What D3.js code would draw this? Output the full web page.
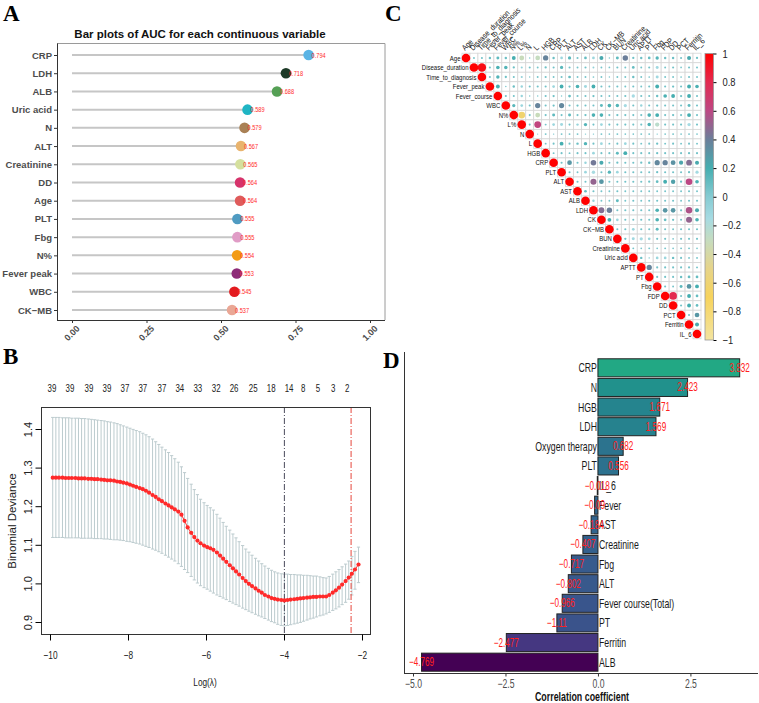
<!DOCTYPE html>
<html>
<head>
<meta charset="utf-8">
<script src="https://cdn.jsdelivr.net/npm/d3@7"></script>
<style>
  body { margin: 0; background: #fff; }
  svg { display: block; }
  text { font-family: "Liberation Sans", Arial, sans-serif; }
  .tag { font-family: "Liberation Serif", "Times New Roman", serif; font-weight: bold; font-size: 23px; }
</style>
</head>
<body>
<svg id="fig" width="759" height="703"></svg>
<script>
// ---------- A: AUC lollipop ----------
const aucVars = ["CRP", "LDH", "ALB", "Uric acid", "N", "ALT", "Creatinine", "DD", "Age", "PLT", "Fbg", "N%", "Fever peak", "WBC", "CK\u2212MB"];
const aucValues = [0.794, 0.718, 0.688, 0.589, 0.579, 0.567, 0.565, 0.564, 0.564, 0.555, 0.555, 0.554, 0.553, 0.545, 0.537];
const aucColors = ["#5ab4e5", "#1d3a27", "#55a055", "#1fb5c4", "#a98155", "#e9b46e", "#d5e09e", "#d6336b", "#df5b5b", "#4f9bc2", "#e09cc6", "#f39c16", "#8e2b78", "#e31b1f", "#eaa795"];
const aucTicks = [0, 0.25, 0.5, 0.75, 1];

// ---------- B: lasso CV curve ----------
const lassoLogLambda = [
  -9.93, -9.85, -9.77, -9.68, -9.60, -9.52, -9.44, -9.35, -9.27, -9.19,
  -9.11, -9.02, -8.94, -8.86, -8.78, -8.69, -8.61, -8.53, -8.45, -8.36,
  -8.28, -8.20, -8.12, -8.03, -7.95, -7.87, -7.79, -7.70, -7.62, -7.54,
  -7.46, -7.37, -7.29, -7.21, -7.13, -7.04, -6.96, -6.88, -6.80, -6.71,
  -6.63, -6.55, -6.47, -6.38, -6.30, -6.22, -6.14, -6.05, -5.97, -5.89,
  -5.81, -5.72, -5.64, -5.56, -5.48, -5.39, -5.31, -5.23, -5.15, -5.06,
  -4.98, -4.90, -4.82, -4.73, -4.65, -4.57, -4.49, -4.40, -4.32, -4.24,
  -4.16, -4.07, -3.99, -3.91, -3.83, -3.74, -3.66, -3.58, -3.50, -3.41,
  -3.33, -3.25, -3.17, -3.08, -3.00, -2.92, -2.84, -2.75, -2.67, -2.59,
  -2.51, -2.42, -2.34, -2.26, -2.18, -2.09];
const lassoMean = [
  1.274, 1.274, 1.274, 1.274, 1.273, 1.273, 1.273, 1.273, 1.272, 1.272,
  1.272, 1.271, 1.271, 1.270, 1.270, 1.269, 1.268, 1.267, 1.267, 1.266,
  1.264, 1.263, 1.261, 1.259, 1.256, 1.253, 1.250, 1.247, 1.244, 1.240,
  1.235, 1.229, 1.224, 1.218, 1.213, 1.207, 1.202, 1.197, 1.192, 1.186,
  1.178, 1.162, 1.145, 1.131, 1.120, 1.111, 1.104, 1.098, 1.094, 1.091,
  1.087, 1.080, 1.072, 1.064, 1.056, 1.047, 1.039, 1.031, 1.023, 1.014,
  1.006, 0.999, 0.993, 0.987, 0.981, 0.976, 0.970, 0.966, 0.962, 0.960,
  0.958, 0.957, 0.956, 0.957, 0.958, 0.959, 0.960, 0.961, 0.962, 0.963,
  0.964, 0.965, 0.965, 0.966, 0.966, 0.966, 0.970, 0.976, 0.982, 0.989,
  0.997, 1.006, 1.015, 1.025, 1.036, 1.049];
const lassoUpper = [
  1.430, 1.430, 1.430, 1.429, 1.429, 1.429, 1.428, 1.428, 1.428, 1.427,
  1.427, 1.426, 1.425, 1.424, 1.423, 1.422, 1.421, 1.419, 1.418, 1.416,
  1.414, 1.411, 1.408, 1.405, 1.402, 1.399, 1.396, 1.393, 1.389, 1.385,
  1.380, 1.374, 1.367, 1.360, 1.353, 1.346, 1.339, 1.331, 1.323, 1.314,
  1.302, 1.287, 1.272, 1.257, 1.243, 1.230, 1.218, 1.209, 1.202, 1.196,
  1.190, 1.179, 1.169, 1.158, 1.148, 1.138, 1.128, 1.118, 1.108, 1.098,
  1.089, 1.081, 1.073, 1.065, 1.058, 1.051, 1.045, 1.039, 1.034, 1.030,
  1.027, 1.025, 1.024, 1.024, 1.023, 1.023, 1.022, 1.022, 1.021, 1.021,
  1.020, 1.019, 1.019, 1.017, 1.015, 1.014, 1.018, 1.024, 1.030, 1.036,
  1.043, 1.050, 1.058, 1.070, 1.083, 1.094];
const lassoLower = [
  1.119, 1.119, 1.119, 1.119, 1.118, 1.118, 1.118, 1.118, 1.118, 1.117,
  1.117, 1.117, 1.117, 1.116, 1.116, 1.116, 1.115, 1.115, 1.114, 1.113,
  1.113, 1.112, 1.111, 1.109, 1.108, 1.106, 1.104, 1.102, 1.099, 1.096,
  1.093, 1.089, 1.086, 1.082, 1.078, 1.073, 1.068, 1.063, 1.058, 1.051,
  1.044, 1.036, 1.028, 1.018, 1.009, 1.001, 0.994, 0.989, 0.985, 0.980,
  0.975, 0.970, 0.966, 0.962, 0.958, 0.953, 0.949, 0.945, 0.941, 0.936,
  0.932, 0.928, 0.924, 0.920, 0.916, 0.913, 0.909, 0.905, 0.901, 0.898,
  0.894, 0.891, 0.890, 0.891, 0.893, 0.895, 0.897, 0.899, 0.902, 0.905,
  0.908, 0.910, 0.913, 0.916, 0.918, 0.921, 0.925, 0.930, 0.934, 0.939,
  0.945, 0.951, 0.959, 0.970, 0.985, 1.002];
const nzeroAt = [-9.95, -9.49, -9.0, -8.54, -8.08, -7.62, -7.13, -6.67, -6.21, -5.74, -5.28, -4.79, -4.33, -3.87, -3.51, -3.13, -2.74, -2.38];
const nzeroLabels = ["39", "39", "39", "39", "37", "37", "37", "34", "33", "32", "26", "25", "18", "14", "8", "5", "3", "2"];
const lambdaMin = -3.99, lambda1se = -2.28;
const lassoXTicks = [-10, -8, -6, -4, -2];
const lassoYTicks = [0.9, 1.0, 1.1, 1.2, 1.3, 1.4];

// ---------- C: correlation matrix ----------
const corrVars = ["Age", "Disease_duration", "Time_to_diagnosis", "Fever_peak", "Fever_course", "WBC", "N%", "L%", "N", "L", "HGB", "CRP", "PLT", "ALT", "AST", "ALB", "LDH", "CK", "CK\u2212MB", "BUN", "Creatinine", "Uric acid", "APTT", "PT", "Fbg", "FDP", "DD", "PCT", "Ferritin", "IL_6"];
// row i lists r(i, j) for j = i+1 .. 29
const corrUpper = [
  [0.05, 0.06, 0.08, 0.12, 0.08, 0.2, -0.32, 0.03, -0.3, 0.38, 0.08, -0.1, 0.14, 0.06, 0.1, -0.1, 0.22, 0.03, 0.12, 0.4, 0.07, 0.08, 0.1, 0.15, 0.08, 0.08, 0.06, 0.22, 0.07],
  [0.95, 0.06, 0.18, 0.16, 0.07, -0.06, 0.06, 0.05, 0.07, 0.06, 0.14, 0.06, 0.05, 0.06, -0.05, 0.05, 0.04, 0.06, 0.05, 0.1, 0.05, 0.06, -0.12, 0.05, 0.06, 0.04, 0.06, 0.05],
  [0.06, 0.16, 0.07, 0.06, -0.06, 0.03, 0.05, 0.06, 0.05, 0.06, 0.1, 0.05, 0.05, 0.04, 0.05, 0.03, 0.05, 0.05, 0.08, 0.05, 0.04, -0.12, 0.05, 0.05, 0.04, 0.06, 0.05],
  [0.2, 0.03, 0.08, -0.08, 0.06, 0.06, 0.06, -0.1, 0.2, 0.07, 0.18, -0.12, 0.2, 0.06, 0.05, 0.06, 0.05, 0.06, 0.05, 0.06, 0.2, 0.06, 0.07, 0.06, 0.2, 0.18],
  [0.06, 0.06, -0.08, 0.03, 0.03, 0.06, 0.07, 0.03, 0.1, 0.06, 0.06, 0.07, 0.06, 0.05, 0.06, 0.06, -0.15, 0.06, 0.06, 0.08, 0.18, 0.2, 0.07, 0.2, 0.06],
  [0.14, -0.1, 0.06, 0.38, 0.06, 0.07, 0.36, 0.06, 0.07, 0.06, 0.06, 0.12, 0.18, 0.16, -0.14, 0.06, -0.08, 0.06, 0.07, 0.06, 0.06, 0.06, 0.12, 0.06],
  [-0.62, 0.06, -0.32, 0.06, 0.12, 0.06, 0.12, 0.06, 0.07, 0.18, 0.18, 0.06, 0.07, 0.06, 0.06, 0.06, 0.18, 0.2, 0.06, 0.07, 0.06, 0.2, 0.06],
  [0.06, 0.62, 0.05, -0.1, -0.12, 0.06, -0.08, 0.15, 0.06, -0.1, 0.06, 0.06, 0.06, 0.06, 0.06, 0.17, -0.25, 0.06, 0.06, 0.06, -0.15, 0.06],
  [0.02, 0.05, 0.03, 0.05, 0.05, 0.05, 0.03, 0.03, 0.05, 0.04, 0.05, 0.04, 0.04, 0.05, 0.05, 0.03, 0.04, 0.05, 0.04, 0.05, 0.04],
  [0.05, 0.06, 0.2, 0.06, 0.08, 0.16, 0.06, -0.1, 0.05, 0.06, -0.1, 0.06, 0.05, 0.06, 0.07, 0.05, 0.06, 0.05, 0.06, 0.05],
  [0.05, 0.06, 0.05, 0.06, 0.06, -0.1, 0.06, 0.06, 0.12, 0.2, 0.06, 0.06, 0.06, 0.07, 0.06, 0.06, 0.06, 0.07, 0.06],
  [0.06, 0.3, 0.06, -0.08, 0.42, 0.22, 0.06, 0.07, 0.06, 0.06, 0.07, 0.08, 0.36, 0.38, 0.32, 0.24, 0.46, 0.22],
  [0.06, 0.05, -0.1, -0.16, 0.06, 0.15, -0.1, 0.06, 0.06, 0.06, 0.06, 0.07, 0.06, 0.06, 0.06, 0.07, -0.14],
  [0.06, 0.06, 0.5, 0.3, 0.06, 0.06, 0.06, 0.06, 0.06, 0.07, 0.1, 0.2, 0.26, 0.07, 0.6, 0.18],
  [0.1, 0.06, 0.05, 0.05, 0.06, 0.05, 0.05, 0.05, 0.05, 0.05, 0.05, 0.05, 0.05, 0.06, 0.05],
  [-0.08, 0.05, 0.05, 0.12, 0.05, 0.06, 0.05, 0.06, 0.06, 0.06, 0.06, 0.05, 0.06, 0.06],
  [0.46, 0.4, 0.06, 0.06, 0.06, 0.06, 0.06, 0.18, 0.3, 0.3, 0.07, 0.56, 0.22],
  [0.2, -0.1, 0.06, 0.06, 0.06, 0.06, 0.18, 0.1, 0.07, 0.06, 0.5, 0.18],
  [0.06, 0.06, -0.1, 0.06, 0.06, 0.12, 0.06, 0.05, 0.06, 0.06, 0.06],
  [0.07, -0.12, -0.14, -0.1, 0.06, 0.06, 0.04, 0.06, 0.06, 0.06],
  [0.05, 0.04, 0.05, 0.04, 0.05, 0.04, 0.05, 0.05, 0.04],
  [0.08, 0.03, -0.1, -0.1, 0.08, 0.06, 0.05, 0.05],
  [0.38, 0.06, 0.06, 0.06, 0.06, 0.06, 0.05],
  [0.06, 0.06, 0.06, 0.08, 0.1, 0.1],
  [0.06, 0.05, 0.12, 0.3, 0.2],
  [0.8, 0.06, 0.2, 0.1],
  [0.06, 0.2, 0.1],
  [0.06, 0.3],
  [0.22],
  []
];
const corrStops = [-1, -0.7, -0.5, -0.3, -0.15, 0, 0.2, 0.4, 0.6, 0.8, 1];
const corrStopColors = ["#f3e4a0", "#f7d35c", "#e6d48a", "#c5dcc0", "#a6dbe3", "#86cbd2", "#45aeb0", "#6b7f9a", "#bd4884", "#e32a50", "#ff0000"];
const corrTicks = [1, 0.8, 0.6, 0.4, 0.2, 0, -0.2, -0.4, -0.6, -0.8, -1];

// ---------- D: coefficient bars ----------
const coefVars = ["CRP", "N", "HGB", "LDH", "Oxygen therapy", "PLT", "IL_6", "Fever", "AST", "Creatinine", "Fbg", "ALT", "Fever course(Total)", "PT", "Ferritin", "ALB"];
const coefValues = [3.832, 2.423, 1.671, 1.569, 0.682, 0.556, -0.018, -0.09, -0.184, -0.407, -0.717, -0.802, -0.966, -1.11, -2.477, -4.769];
const coefTicks = [-5, -2.5, 0, 2.5];

const svg = d3.select("#fig");
const minus = s => String(s).replace("-", "\u2212");

// the source figure is squeezed sideways, so its text is narrow
function squish(sel, k) {
  sel.each(function () {
    const t = d3.select(this);
    const x = +t.attr("x") || 0, y = +t.attr("y") || 0;
    t.attr("x", 0).attr("y", 0).attr("transform", `translate(${x},${y}) scale(${k},1)`);
  });
}

// ================= Panel A =================
(() => {
  const g = svg.append("g");
  const x = d3.scaleLinear().domain([0, 1]).range([72, 370]);
  const y = d3.scalePoint().domain(aucVars).range([55, 310]);
  const data = aucVars.map((v, i) => ({ name: v, value: aucValues[i], color: aucColors[i] }));

  g.append("text").attr("class", "tag").attr("x", 3).attr("y", 21).text("A");
  g.append("text").attr("x", 200).attr("y", 38).attr("text-anchor", "middle")
    .attr("font-size", 11.5).attr("font-weight", "bold").attr("fill", "#111")
    .text("Bar plots of AUC for each continuous variable");

  g.append("line").attr("x1", 57).attr("x2", 385).attr("y1", 43.5).attr("y2", 43.5).attr("stroke", "#9a9a9a");
  g.append("line").attr("x1", 385).attr("x2", 385).attr("y1", 43.5).attr("y2", 320).attr("stroke", "#9a9a9a");

  g.selectAll(".seg").data(data).join("line")
    .attr("x1", x(0)).attr("x2", d => x(d.value))
    .attr("y1", d => y(d.name)).attr("y2", d => y(d.name))
    .attr("stroke", "#c6c6c6").attr("stroke-width", 2);
  g.selectAll(".pt").data(data).join("circle")
    .attr("cx", d => x(d.value)).attr("cy", d => y(d.name)).attr("r", 5.3)
    .attr("fill", d => d.color);
  g.selectAll(".lab").data(data).join("text")
    .attr("x", d => x(d.value) + 3).attr("y", d => y(d.name) + 2.5)
    .attr("font-size", 7.5).attr("fill", "#ff2b2b")
    .text(d => d.value.toFixed(3))
    .call(squish, 0.75);

  const yAxis = g.append("g").attr("transform", "translate(57,0)")
    .call(d3.axisLeft(y).tickSize(3).tickPadding(2));
  yAxis.select(".domain").attr("d", "M0.5,43.5V320.5").attr("stroke", "#333");
  yAxis.selectAll(".tick line").attr("stroke", "#333");
  yAxis.selectAll("text").attr("font-size", 9.5).attr("font-weight", "bold").attr("fill", "#4d4d4d");

  const xAxis = g.append("g").attr("transform", "translate(0,320)")
    .call(d3.axisBottom(x).tickValues(aucTicks).tickFormat(d3.format(".2f")).tickSize(3));
  xAxis.select(".domain").attr("d", "M57,0.5H385").attr("stroke", "#333");
  xAxis.selectAll(".tick line").attr("stroke", "#333");
  xAxis.selectAll("text").attr("font-size", 9).attr("font-weight", "bold").attr("fill", "#4d4d4d")
    .attr("text-anchor", "end").attr("dy", null).attr("y", 6)
    .attr("transform", "rotate(-45) translate(-1,6)");
})();

// ================= Panel B =================
(() => {
  const g = svg.append("g");
  const x = d3.scaleLinear().domain([-10, -2]).range([50, 362]);
  const y = d3.scaleLinear().domain([0.9, 1.4]).range([622, 429]);
  const data = lassoLogLambda.map((l, i) => ({ l, m: lassoMean[i], hi: lassoUpper[i], lo: lassoLower[i] }));
  const left = 41, right = 370, top = 407, bottom = 634;

  g.append("text").attr("class", "tag").attr("x", 3).attr("y", 364).text("B");

  const bars = g.append("g").attr("stroke", "#bccbce").attr("stroke-width", 1);
  data.forEach(d => {
    bars.append("line").attr("x1", x(d.l)).attr("x2", x(d.l)).attr("y1", y(d.hi)).attr("y2", y(d.lo));
    bars.append("line").attr("x1", x(d.l) - 1.6).attr("x2", x(d.l) + 1.6).attr("y1", y(d.hi)).attr("y2", y(d.hi));
    bars.append("line").attr("x1", x(d.l) - 1.6).attr("x2", x(d.l) + 1.6).attr("y1", y(d.lo)).attr("y2", y(d.lo));
  });

  g.append("line").attr("x1", x(lambdaMin)).attr("x2", x(lambdaMin)).attr("y1", top).attr("y2", bottom)
    .attr("stroke", "#4b4b5c").attr("stroke-dasharray", "6,2,1,2");
  g.append("line").attr("x1", x(lambda1se)).attr("x2", x(lambda1se)).attr("y1", top).attr("y2", bottom)
    .attr("stroke", "#e5453c").attr("stroke-dasharray", "6,2,1,2");

  g.append("path").datum(data).attr("fill", "none").attr("stroke", "#ff3030").attr("stroke-width", 1)
    .attr("d", d3.line().x(d => x(d.l)).y(d => y(d.m)));
  g.selectAll(".dot").data(data).join("circle")
    .attr("cx", d => x(d.l)).attr("cy", d => y(d.m)).attr("r", 2.1).attr("fill", "#ff2a2a");

  g.append("rect").attr("x", left + 0.5).attr("y", top + 0.5).attr("width", right - left).attr("height", bottom - top)
    .attr("fill", "none").attr("stroke", "#333");

  const xAxis = g.append("g").attr("transform", `translate(0,${bottom + 0.5})`)
    .call(d3.axisBottom(x).tickValues(lassoXTicks).tickFormat(d => minus(d)).tickSize(6).tickPadding(10));
  xAxis.select(".domain").remove();
  xAxis.selectAll("text").attr("font-size", 11.5).attr("fill", "#222").call(squish, 0.72);

  const yAxis = g.append("g").attr("transform", `translate(${left + 0.5},0)`)
    .call(d3.axisLeft(y).tickValues(lassoYTicks).tickFormat(d3.format(".1f")).tickSize(6));
  yAxis.select(".domain").remove();
  yAxis.selectAll("text").attr("font-size", 11).attr("fill", "#222").attr("text-anchor", "middle")
    .attr("dy", null).attr("x", 0).attr("transform", "translate(-10,0) rotate(-90)");

  g.selectAll(".nz").data(nzeroAt).join("text")
    .attr("x", d => x(d)).attr("y", 392).attr("text-anchor", "middle")
    .attr("font-size", 11).attr("fill", "#222").text((d, i) => nzeroLabels[i])
    .call(squish, 0.72);

  g.append("text").attr("x", 205).attr("y", 686).attr("text-anchor", "middle").attr("font-size", 11.5)
    .attr("fill", "#222").text("Log(\u03bb)").call(squish, 0.72);
  g.append("text").attr("transform", "translate(16,521) rotate(-90)").attr("text-anchor", "middle")
    .attr("font-size", 11.5).attr("fill", "#222").text("Binomial Deviance");
})();

// ================= Panel C =================
(() => {
  const g = svg.append("g");
  const xc = d3.scaleBand().domain(corrVars).range([462, 701]);
  const yc = d3.scaleBand().domain(corrVars).range([53.2, 338.8]);
  const color = d3.scaleLinear().domain(corrStops).range(corrStopColors);
  const rMax = 4.3;
  const cells = [];
  corrVars.forEach((a, i) => {
    cells.push({ a, b: a, v: 1 });
    corrUpper[i].forEach((v, k) => cells.push({ a, b: corrVars[i + 1 + k], v }));
  });

  g.append("text").attr("class", "tag").attr("x", 385).attr("y", 21).text("C");

  g.selectAll(".cell").data(cells).join("rect")
    .attr("x", d => xc(d.b)).attr("y", d => yc(d.a))
    .attr("width", xc.bandwidth()).attr("height", yc.bandwidth())
    .attr("fill", "#fff").attr("stroke", "#d6d6d6").attr("stroke-width", 0.8);
  g.selectAll(".dot").data(cells).join("circle")
    .attr("cx", d => xc(d.b) + xc.bandwidth() / 2).attr("cy", d => yc(d.a) + yc.bandwidth() / 2)
    .attr("r", d => rMax * Math.sqrt(Math.abs(d.v)))
    .attr("fill", d => color(d.v));

  g.selectAll(".rl").data(corrVars).join("text")
    .attr("x", d => xc(d) - 1.5).attr("y", d => yc(d) + yc.bandwidth() / 2 + 2.6)
    .attr("text-anchor", "end").attr("font-size", 7.5).attr("fill", "#111").text(d => d)
    .call(squish, 0.8);
  g.selectAll(".cl").data(corrVars).join("text")
    .attr("transform", d => `translate(${xc(d) + xc.bandwidth() / 2 - 1},51) rotate(-45) scale(0.85,1)`)
    .attr("font-size", 8).attr("fill", "#111").text(d => d);

  // colour bar
  const cb = d3.scaleLinear().domain([-1, 1]).range([340, 53.5]);
  const grad = svg.append("defs").append("linearGradient").attr("id", "cbar")
    .attr("x1", 0).attr("x2", 0).attr("y1", 1).attr("y2", 0);
  corrStops.forEach((s, i) => grad.append("stop").attr("offset", (s + 1) / 2).attr("stop-color", corrStopColors[i]));
  g.append("rect").attr("x", 705).attr("y", cb(1)).attr("width", 8.5).attr("height", cb(-1) - cb(1))
    .attr("fill", "url(#cbar)").attr("stroke", "#999").attr("stroke-width", 0.8);
  const ax = g.append("g").attr("transform", "translate(713.5,0)")
    .call(d3.axisRight(cb).tickValues(corrTicks).tickFormat(d => minus(d)).tickSize(3).tickPadding(6));
  ax.select(".domain").remove();
  ax.selectAll("text").attr("font-size", 11).attr("fill", "#222").call(squish, 0.85);
})();

// ================= Panel D =================
(() => {
  const g = svg.append("g");
  const x = d3.scaleLinear().domain([-5, 4.3]).range([413, 757]);
  const y = d3.scaleBand().domain(coefVars).range([358, 672]).paddingInner(0.08).paddingOuter(0.04);
  const data = coefVars.map((v, i) => ({ name: v, value: coefValues[i] }));
  const fill = d3.scaleLinear().domain(d3.extent(coefValues)).range([0, 0.6]);

  g.append("text").attr("class", "tag").attr("x", 383).attr("y", 368).text("D");

  g.selectAll(".bar").data(data).join("rect")
    .attr("x", d => x(Math.min(0, d.value))).attr("y", d => y(d.name))
    .attr("width", d => Math.abs(x(d.value) - x(0))).attr("height", y.bandwidth())
    .attr("fill", d => d3.interpolateViridis(fill(d.value)))
    .attr("stroke", "#222").attr("stroke-width", 1);

  g.selectAll(".nm").data(data).join("text")
    .attr("x", d => d.value >= 0 ? x(0) - 1 : x(0) + 1)
    .attr("y", d => y(d.name) + y.bandwidth() / 2 + 4.5)
    .attr("text-anchor", d => d.value >= 0 ? "end" : "start")
    .attr("font-size", 12.5).attr("fill", "#1a1a1a").text(d => d.name)
    .call(squish, 0.7);

  g.selectAll(".val").data(data).join("text")
    .attr("x", d => x(d.value)).attr("y", d => y(d.name) + y.bandwidth() / 2 + 4)
    .attr("text-anchor", "middle").attr("font-size", 12).attr("fill", "#ff2020")
    .text(d => minus(d.value))
    .call(squish, 0.68);

  g.append("line").attr("x1", 404.5).attr("x2", 404.5).attr("y1", 352).attr("y2", 673).attr("stroke", "#333");
  const xAxis = g.append("g").attr("transform", "translate(0,673.5)")
    .call(d3.axisBottom(x).tickValues(coefTicks).tickFormat(d3.format(".1f")).tickSize(3));
  xAxis.select(".domain").attr("d", "M404,0H758").attr("stroke", "#333");
  xAxis.selectAll(".tick line").attr("stroke", "#333");
  xAxis.selectAll("text").attr("font-size", 12).attr("fill", "#4d4d4d").call(squish, 0.72);

  g.append("text").attr("x", 582).attr("y", 701).attr("text-anchor", "middle")
    .attr("font-size", 12).attr("font-weight", "bold").attr("fill", "#111").text("Correlation coefficient")
    .call(squish, 0.74);
})();
</script>
</body>
</html>
